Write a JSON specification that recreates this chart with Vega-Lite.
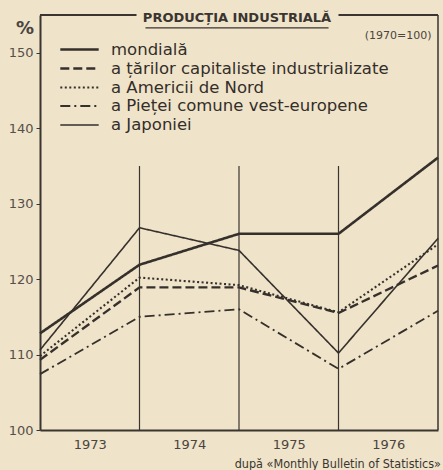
{
  "$schema": "https://vega.github.io/schema/vega-lite/v6.json",
  "width": 398,
  "height": 415,
  "autosize": "none",
  "padding": {"left": 40, "top": 15, "right": 5, "bottom": 40},
  "background": "#efe3c9",
  "config": {
    "view": {"stroke": null},
    "font": "DejaVu Sans"
  },
  "datasets": {
    "series": [
      {"serie": "mondială", "an": 1973, "valoare": 112.8},
      {"serie": "mondială", "an": 1974, "valoare": 121.9},
      {"serie": "mondială", "an": 1975, "valoare": 126.0},
      {"serie": "mondială", "an": 1976, "valoare": 126.0},
      {"serie": "mondială", "an": 1977, "valoare": 136.1},
      {"serie": "a țărilor capitaliste industrializate", "an": 1973, "valoare": 109.3},
      {"serie": "a țărilor capitaliste industrializate", "an": 1974, "valoare": 118.9},
      {"serie": "a țărilor capitaliste industrializate", "an": 1975, "valoare": 118.9},
      {"serie": "a țărilor capitaliste industrializate", "an": 1976, "valoare": 115.5},
      {"serie": "a țărilor capitaliste industrializate", "an": 1977, "valoare": 121.8},
      {"serie": "a Americii de Nord", "an": 1973, "valoare": 109.8},
      {"serie": "a Americii de Nord", "an": 1974, "valoare": 120.2},
      {"serie": "a Americii de Nord", "an": 1975, "valoare": 119.2},
      {"serie": "a Americii de Nord", "an": 1976, "valoare": 115.6},
      {"serie": "a Americii de Nord", "an": 1977, "valoare": 124.6},
      {"serie": "a Pieței comune vest-europene", "an": 1973, "valoare": 107.4},
      {"serie": "a Pieței comune vest-europene", "an": 1974, "valoare": 115.0},
      {"serie": "a Pieței comune vest-europene", "an": 1975, "valoare": 116.0},
      {"serie": "a Pieței comune vest-europene", "an": 1976, "valoare": 108.1},
      {"serie": "a Pieței comune vest-europene", "an": 1977, "valoare": 115.8},
      {"serie": "a Japoniei", "an": 1973, "valoare": 110.6},
      {"serie": "a Japoniei", "an": 1974, "valoare": 126.8},
      {"serie": "a Japoniei", "an": 1975, "valoare": 123.8},
      {"serie": "a Japoniei", "an": 1976, "valoare": 110.2},
      {"serie": "a Japoniei", "an": 1977, "valoare": 125.4}
    ],
    "grid": [{"an": 1974}, {"an": 1975}, {"an": 1976}],
    "border": [{"x1": 1973, "x2": 1973.97}, {"x1": 1976.0, "x2": 1977}]
  },
  "layer": [
    {
      "data": {"name": "grid"},
      "mark": {"type": "rule", "color": "#3a3530", "strokeWidth": 1.2},
      "encoding": {
        "x": {"field": "an", "type": "quantitative"},
        "y": {"datum": 100},
        "y2": {"datum": 135}
      }
    },
    {
      "data": {"values": [{"an": 1977}]},
      "mark": {"type": "rule", "color": "#3a3530", "strokeWidth": 1.5},
      "encoding": {
        "x": {"field": "an", "type": "quantitative"},
        "y": {"datum": 100},
        "y2": {"datum": 155}
      }
    },
    {
      "data": {"name": "border"},
      "mark": {"type": "rule", "color": "#3a3530", "strokeWidth": 2},
      "encoding": {
        "x": {"field": "x1", "type": "quantitative"},
        "x2": {"field": "x2"},
        "y": {"datum": 155}
      }
    },
    {
      "data": {"name": "series"},
      "mark": {"type": "line", "color": "#35302b", "strokeCap": "butt"},
      "encoding": {
        "x": {
          "field": "an",
          "type": "quantitative",
          "scale": {"domain": [1973, 1977], "nice": false, "zero": false},
          "axis": {
            "title": null,
            "values": [1973.5, 1974.5, 1975.5, 1976.5],
            "labelExpr": "floor(datum.value)",
            "grid": false,
            "ticks": false,
            "domainColor": "#3a3530",
            "domainWidth": 2,
            "labelFontSize": 13,
            "labelColor": "#4a4540",
            "labelPadding": 8
          }
        },
        "y": {
          "field": "valoare",
          "type": "quantitative",
          "scale": {"domain": [100, 155], "nice": false, "zero": false},
          "axis": {
            "title": null,
            "values": [100, 110, 120, 130, 140, 150],
            "grid": false,
            "tickSize": 4,
            "tickColor": "#3a3530",
            "domainColor": "#3a3530",
            "domainWidth": 2,
            "labelFontSize": 13,
            "labelColor": "#555049",
            "labelPadding": 3
          }
        },
        "strokeDash": {
          "field": "serie",
          "type": "nominal",
          "scale": {
            "domain": ["mondială", "a țărilor capitaliste industrializate", "a Americii de Nord", "a Pieței comune vest-europene", "a Japoniei"],
            "range": [[1, 0], [9, 4], [2, 2.5], [10, 4, 2, 4], [1, 0]]
          },
          "legend": {
            "title": null,
            "orient": "none",
            "legendX": 30,
            "legendY": 25,
            "symbolType": "M-2.4,0H2.4",
            "symbolSize": 256,
            "symbolStrokeColor": "#35302b",
            "symbolStrokeWidth": 1.6,
            "labelFont": "DejaVu Sans",
            "labelFontSize": 16.5,
            "labelColor": "#332e29",
            "labelLimit": 400,
            "rowPadding": 1,
            "labelOffset": 22,
            "padding": 0
          }
        },
        "strokeWidth": {
          "field": "serie",
          "type": "nominal",
          "scale": {
            "domain": ["mondială", "a țărilor capitaliste industrializate", "a Americii de Nord", "a Pieței comune vest-europene", "a Japoniei"],
            "range": [2.6, 1.6, 1.8, 1.6, 1.1]
          },
          "legend": null
        }
      }
    },
    {
      "data": {"values": [{}]},
      "mark": {"type": "text", "text": "PRODUCȚIA INDUSTRIALĂ", "font": "DejaVu Sans", "fontWeight": "bold", "fontSize": 13, "color": "#3a3530", "baseline": "middle"},
      "encoding": {"x": {"datum": 1974.98}, "y": {"datum": 154.6}}
    },
    {
      "data": {"values": [{}]},
      "mark": {"type": "rule", "color": "#3a3530", "strokeWidth": 1.2},
      "encoding": {"x": {"datum": 1974.06}, "x2": {"datum": 1975.9}, "y": {"datum": 153.3}}
    },
    {
      "data": {"values": [{}]},
      "mark": {"type": "text", "text": "(1970=100)", "fontSize": 11, "color": "#4a4540", "baseline": "middle"},
      "encoding": {"x": {"datum": 1976.6}, "y": {"datum": 152.2}}
    },
    {
      "data": {"values": [{}]},
      "mark": {"type": "text", "text": "%", "fontSize": 18, "fontWeight": "bold", "color": "#4a4540", "baseline": "middle"},
      "encoding": {"x": {"datum": 1972.85}, "y": {"datum": 153.2}}
    },
    {
      "data": {"values": [{}]},
      "mark": {"type": "text", "text": "după «Monthly Bulletin of Statistics»", "font": "DejaVu Sans Condensed", "fontSize": 12.5, "color": "#3a3530", "align": "right", "baseline": "middle"},
      "encoding": {"x": {"datum": 1977.03}, "y": {"datum": 95.5}}
    }
  ]
}
